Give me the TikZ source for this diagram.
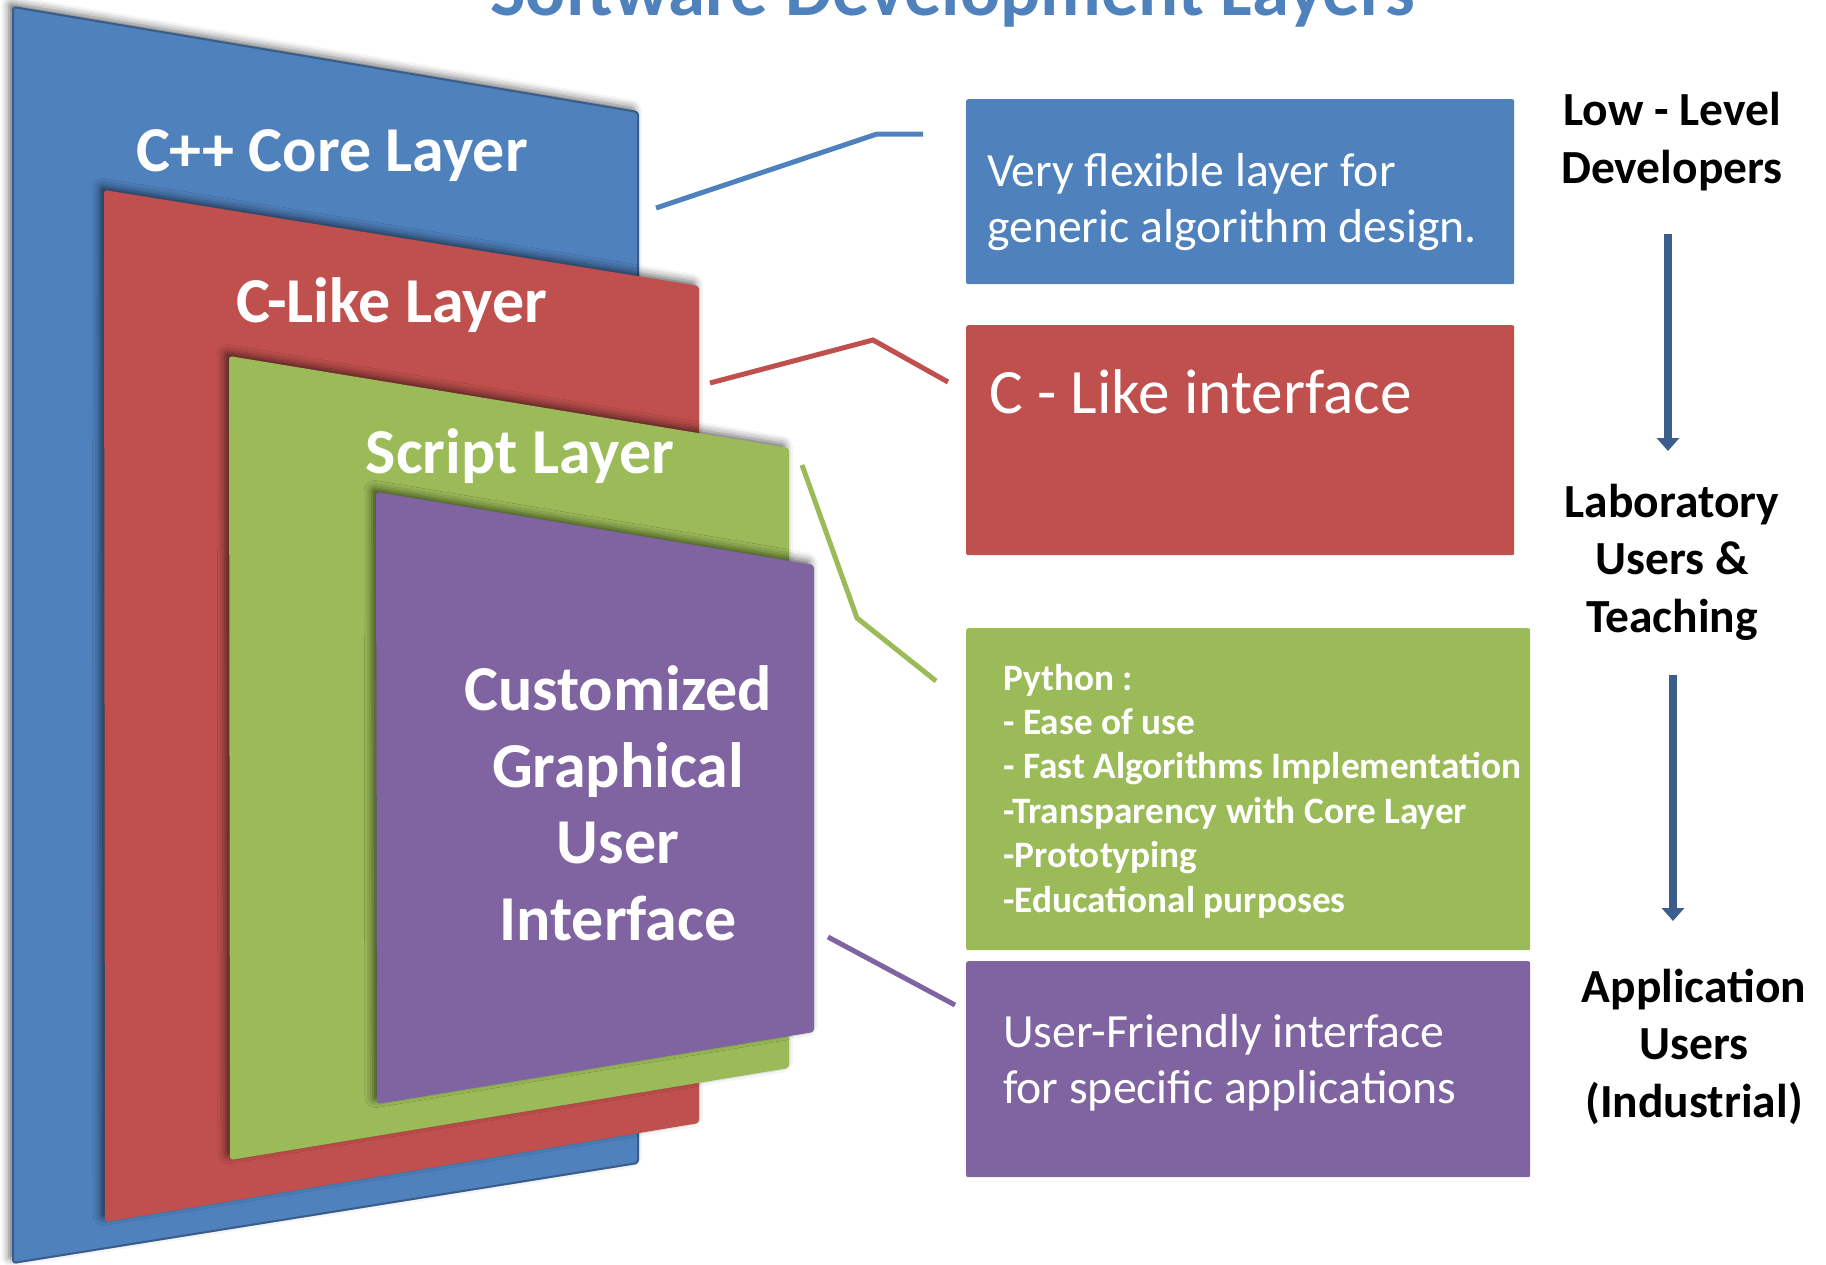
\documentclass[tikz,border=0pt]{standalone}
\usepackage{fontspec}
\setmainfont{Carlito}
\usetikzlibrary{shadows.blur,arrows.meta}

\definecolor{coreblue}{HTML}{4F81BD}
\definecolor{coreedge}{HTML}{385D8A}
\definecolor{clikered}{HTML}{C0504D}
\definecolor{scriptgreen}{HTML}{9BBB59}
\definecolor{guipurple}{HTML}{8064A2}
\definecolor{flowblue}{HTML}{3B5E8C}

\newcommand\fsz[2]{\fontsize{#1}{#2}\selectfont}

\begin{document}
\begin{tikzpicture}[x=1pt,y=-1pt,
  layerpanel/.style={rounded corners=3pt,
    blur shadow={shadow xshift=-4pt, shadow yshift=4pt,
                 shadow blur radius=8pt, shadow opacity=60}},
  layerlabel/.style={text=white, font=\bfseries\fsz{64}{76.5},
                     align=center, anchor=base, inner sep=0pt},
  infobox/.style={rounded corners=2pt, anchor=north west, inner sep=0pt},
  infotext/.style={text=white, font=\fsz{47.7}{56}, align=left,
                   anchor=base west, inner sep=0pt},
  userlabel/.style={text=black, font=\bfseries\fsz{47.5}{57.5},
                    align=center, anchor=base, inner sep=0pt},
  link/.style={line width=5pt},
  flow/.style={draw=flowblue, line width=8pt,
               -{Triangle[width=22pt,length=13pt]}},
]
\useasboundingbox (0,0) rectangle (1826,1264);

% title (runs off the top edge)
\node[text=coreblue, font=\bfseries\fsz{74.7}{80}, anchor=base, inner sep=0pt]
  (title) at (953,15) {Software Development Layers};

% nested layer panels
\fill[layerpanel, fill=coreblue, draw=coreedge, line width=2pt]
  (13,7) -- (638,112) -- (638,1163) -- (13,1263) -- cycle;
\fill[layerpanel, fill=clikered]
  (104,190) -- (699,286) -- (699,1123) -- (105,1222) -- cycle;
\fill[layerpanel, fill=scriptgreen]
  (229,356) -- (789,448) -- (789,1068) -- (230,1160) -- cycle;
\fill[layerpanel, fill=guipurple]
  (376,492) -- (814,565) -- (814,1032) -- (377,1104) -- cycle;

% labels of the panels (multi-line nodes sit on their last baseline)
\node[layerlabel] (corelbl)   at (332,171) {C++ Core Layer};
\node[layerlabel] (clikelbl)  at (392,322) {C-Like Layer};
\node[layerlabel] (scriptlbl) at (520,473) {Script Layer};
\node[layerlabel] (guilbl)    at (618,940) {Customized\\Graphical\\User\\Interface};

% description boxes
\node[infobox, fill=coreblue,    minimum width=548, minimum height=185] (corebox)   at (966,99)  {};
\node[infobox, fill=clikered,    minimum width=548, minimum height=230] (clikebox)  at (966,325) {};
\node[infobox, fill=scriptgreen, minimum width=564, minimum height=322] (scriptbox) at (966,628) {};
\node[infobox, fill=guipurple,   minimum width=564, minimum height=216] (guibox)    at (966,961) {};

\node[infotext] (coretxt) at (987,242) {Very flexible layer for\\generic algorithm design.};
\node[infotext, font=\fsz{63.2}{70}] (cliketxt) at (989,413) {C - Like interface};
\node[infotext, font=\bfseries\fsz{37.3}{44.4}] (scripttxt) at (1003,912)
  {Python :\\- Ease of use\\- Fast Algorithms Implementation\\-Transparency with Core Layer\\-Prototyping\\-Educational purposes};
\node[infotext] (guitxt) at (1003,1103) {User-Friendly interface\\for specific applications};

% leader lines from panels to boxes
\coordinate (c1a) at (656,208); \coordinate (c1b) at (877,134); \coordinate (c1c) at (923,134);
\coordinate (c2a) at (710,383); \coordinate (c2b) at (873,340); \coordinate (c2c) at (948,382);
\coordinate (c3a) at (802,465); \coordinate (c3b) at (857,618); \coordinate (c3c) at (936,681);
\coordinate (c4a) at (828,937); \coordinate (c4b) at (955,1005);
\draw[link, coreblue]    (c1a) -- (c1b) -- (c1c);
\draw[link, clikered]    (c2a) -- (c2b) -- (c2c);
\draw[link, scriptgreen] (c3a) -- (c3b) -- (c3c);
\draw[link, guipurple]   (c4a) -- (c4b);

% user groups
\node[userlabel] (lowdev) at (1672,183)  {Low - Level\\Developers};
\node[userlabel] (labusr) at (1672,632)  {Laboratory\\Users \&\\Teaching};
\node[userlabel] (appusr) at (1694,1117) {Application\\Users\\(Industrial)};

\coordinate (f1a) at (1668,234); \coordinate (f1b) at (1668,451);
\coordinate (f2a) at (1673,675); \coordinate (f2b) at (1673,921);
\draw[flow] (f1a) -- (f1b);
\draw[flow] (f2a) -- (f2b);
\end{tikzpicture}
\end{document}
